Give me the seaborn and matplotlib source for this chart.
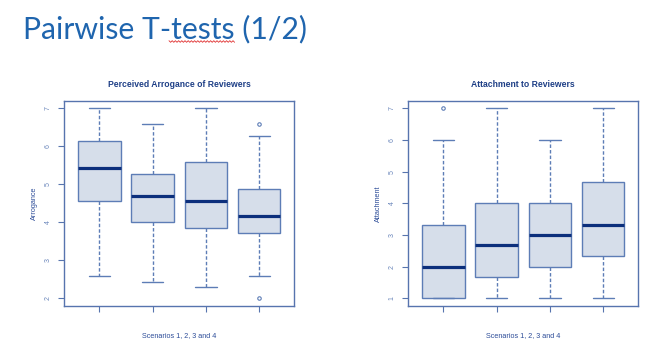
import matplotlib
matplotlib.use("Agg")
import matplotlib.pyplot as plt
from matplotlib.lines import Line2D
import seaborn as sns
import pandas as pd

scenarios = ["1", "2", "3", "4"]
arrogance_s1 = [2.58, 4.57, 4.57, 5.42, 6.13, 6.13, 7.0]
arrogance_s2 = [2.43, 4.00, 4.00, 4.70, 5.28, 5.28, 6.58]
arrogance_s3 = [2.29, 3.86, 3.86, 4.57, 5.58, 5.58, 7.0]
arrogance_s4 = [2.00, 2.58, 3.71, 3.71, 4.16, 4.87, 4.87, 6.28, 6.58]
attachment_s1 = [1.0, 1.0, 1.0, 2.0, 2.0, 3.33, 3.33, 6.0, 7.0]
attachment_s2 = [1.0, 1.67, 1.67, 2.67, 4.0, 4.0, 7.0]
attachment_s3 = [1.0, 2.0, 2.0, 3.0, 4.0, 4.0, 6.0]
attachment_s4 = [1.0, 2.33, 2.33, 3.33, 4.67, 4.67, 7.0]
arrogance_ticks = [2, 3, 4, 5, 6, 7]
attachment_ticks = [1, 2, 3, 4, 5, 6, 7]

main_title = "Pairwise T-tests (1/2)"
titles = ["Perceived Arrogance of Reviewers", "Attachment to Reviewers"]
ylabels = ["Arrogance", "Attachment"]
xlabel = "Scenarios 1, 2, 3 and 4"


def to_df(groups):
    rows = []
    for s, vals in zip(scenarios, groups):
        for v in vals:
            rows.append({"scenario": s, "value": v})
    return pd.DataFrame(rows)


df_arr = to_df([arrogance_s1, arrogance_s2, arrogance_s3, arrogance_s4])
df_att = to_df([attachment_s1, attachment_s2, attachment_s3, attachment_s4])

sns.set_style("white")
plt.rcParams["font.family"] = ["Liberation Sans", "DejaVu Sans"]

W, H = 654, 347
fig = plt.figure(figsize=(W / 100, H / 100), dpi=100)

frame_c = "#5774AE"
box_edge = "#5D7DB6"
box_face = "#D6DEEA"
median_c = "#0C2F7C"
text_c = "#2C4C98"
tick_c = "#6A86BB"

panels = [
    (df_arr, 64.3, (1.8, 7.19), arrogance_ticks),
    (df_att, 408.3, (0.76, 7.23), attachment_ticks),
]

for i, (df, x0, ylim, yt) in enumerate(panels):
    ax = fig.add_axes([x0 / W, 1 - 306 / H, 230 / W, 205 / H])
    sns.boxplot(
        data=df, x="scenario", y="value", ax=ax,
        color=box_face, saturation=1, width=0.8, whis=1.4,
        linecolor=box_edge, linewidth=1.0, fliersize=2.5,
        whiskerprops=dict(linestyle=(0, (2.5, 1.5)), color=box_edge, linewidth=1.0),
        capprops=dict(color=box_edge, linewidth=1.0),
        medianprops=dict(color=median_c, linewidth=2.3),
        flierprops=dict(marker="o", markerfacecolor="none",
                        markeredgecolor=box_edge, markeredgewidth=0.8),
    )
    ax.set_xlim(-0.66, 3.66)
    ax.set_ylim(*ylim)
    ax.set_yticks(yt)
    ax.set_yticklabels([str(t) for t in yt], rotation=90, va="center",
                       fontsize=5, color=tick_c)
    ax.set_xticks(range(4))
    ax.set_xticklabels([])
    ax.tick_params(axis="both", direction="out", length=4, width=0.8,
                   color=frame_c, left=True, bottom=True, pad=5)
    for sp in ax.spines.values():
        sp.set_visible(True)
        sp.set_color(frame_c)
        sp.set_linewidth(1.0)
    ax.set_xlabel("")
    ax.set_ylabel("")
    cx = (x0 + 115) / W
    fig.text(cx, 1 - 84.3 / H, titles[i], ha="center", va="center",
             fontsize=6.2, fontweight="bold", color="#1E3F86")
    fig.text(cx, 1 - 335.5 / H, xlabel, ha="center", va="center",
             fontsize=5.2, color=text_c)
    fig.text((x0 - 29.5) / W, 1 - 203.5 / H, ylabels[i], ha="center",
             va="center", rotation=90, fontsize=5.2, color=text_c)

fig.text(23 / W, 1 - 29 / H, main_title, ha="left", va="center",
         fontsize=21.7, color="#1F65AE", family=["Lato", "DejaVu Sans"])

# spell-check squiggle under "tests"
zx, zy = [], []
x = 169.0
k = 0
while x <= 236:
    zx.append(x / W)
    zy.append(1 - (41.5 + (0.8 if k % 2 else -0.8)) / H)
    x += 1.6
    k += 1
fig.add_artist(Line2D(zx, zy, color="#E03030", linewidth=0.6,
                      transform=fig.transFigure))

fig.savefig("out.png", dpi=100)
